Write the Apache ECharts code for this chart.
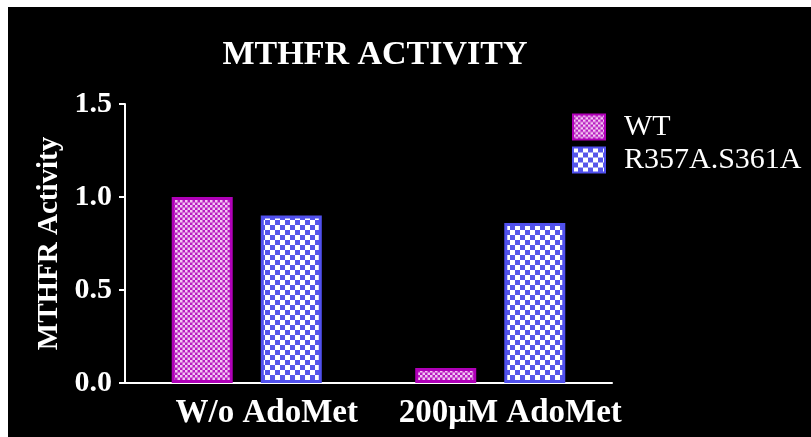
<!DOCTYPE html>
<html><head><meta charset="utf-8">
<script src="https://cdn.jsdelivr.net/npm/echarts@6/dist/echarts.min.js"></script>
<style>html,body{margin:0;padding:0;background:#fff;}#main{width:811px;height:437px;}</style>
</head><body><div id="main"></div>
<script>
const categories = ['W/o AdoMet', '200\u03BCM AdoMet'];
const seriesNames = ['WT', 'R357A.S361A'];
const wtValues = [1.0, 0.08];
const mutValues = [0.90, 0.86];
const yTicks = [0, 0.5, 1.0, 1.5];

function makePattern(c1, c2, cell) {
  const cv = document.createElement('canvas');
  cv.width = cell * 2; cv.height = cell * 2;
  const ctx = cv.getContext('2d');
  ctx.fillStyle = c1; ctx.fillRect(0, 0, cell * 2, cell * 2);
  ctx.fillStyle = c2;
  ctx.fillRect(0, 0, cell, cell);
  ctx.fillRect(cell, cell, cell, cell);
  return { image: cv, repeat: 'repeat' };
}
const wtFill = makePattern('#b81cc0', '#f3c8f3', 2.5);
const mutFill = makePattern('#5656ea', '#ffffff', 5);

const font = 'Liberation Serif';
const chart = echarts.init(document.getElementById('main'), null, {renderer: 'canvas'});
chart.setOption({
  backgroundColor: '#ffffff',
  animation: false,
  graphic: [{type: 'rect', z: -100, silent: true, shape: {x: 8, y: 7, width: 803, height: 430}, style: {fill: '#000'}}],
  title: {
    text: 'MTHFR ACTIVITY', left: 370, top: 33, textAlign: 'center',
    textStyle: {color: '#fff', fontFamily: font, fontWeight: 'bold', fontSize: 34}
  },
  legend: {
    orient: 'vertical', left: 572, top: 112, itemWidth: 32, itemHeight: 25, itemGap: 3, padding: 0,
    icon: 'rect',
    textStyle: {color: '#fff', fontFamily: font, fontSize: 30, padding: [0, 0, 0, 14]},
    data: seriesNames
  },
  grid: {left: 125, right: 199, top: 104, bottom: 54, containLabel: false},
  xAxis: {
    type: 'category', data: categories,
    axisLine: {lineStyle: {color: '#fff', width: 2}},
    axisTick: {show: false},
    axisLabel: {interval: 0, color: '#fff', fontFamily: font, fontWeight: 'bold', fontSize: 33, margin: 14,
      padding: [0, 0, 0, 40]}
  },
  yAxis: {
    type: 'value', min: 0, max: 1.5, interval: 0.5,
    name: 'MTHFR Activity', nameLocation: 'middle', nameGap: 61, nameRotate: 90,
    nameTextStyle: {color: '#fff', fontFamily: font, fontWeight: 'bold', fontSize: 29},
    axisLine: {show: true, lineStyle: {color: '#fff', width: 2}},
    axisTick: {show: true, length: 6, lineStyle: {color: '#fff', width: 2}},
    splitLine: {show: false},
    axisLabel: {color: '#fff', fontFamily: font, fontWeight: 'bold', fontSize: 30, margin: 13,
      formatter: v => v.toFixed(1)}
  },
  series: [
    {name: seriesNames[0], type: 'bar', data: wtValues, barWidth: 61, barGap: '46%',
     itemStyle: {color: wtFill, borderColor: '#b000b8', borderWidth: 3}},
    {name: seriesNames[1], type: 'bar', data: mutValues, barWidth: 61,
     itemStyle: {color: mutFill, borderColor: '#5050ee', borderWidth: 3}}
  ]
});
</script></body></html>
